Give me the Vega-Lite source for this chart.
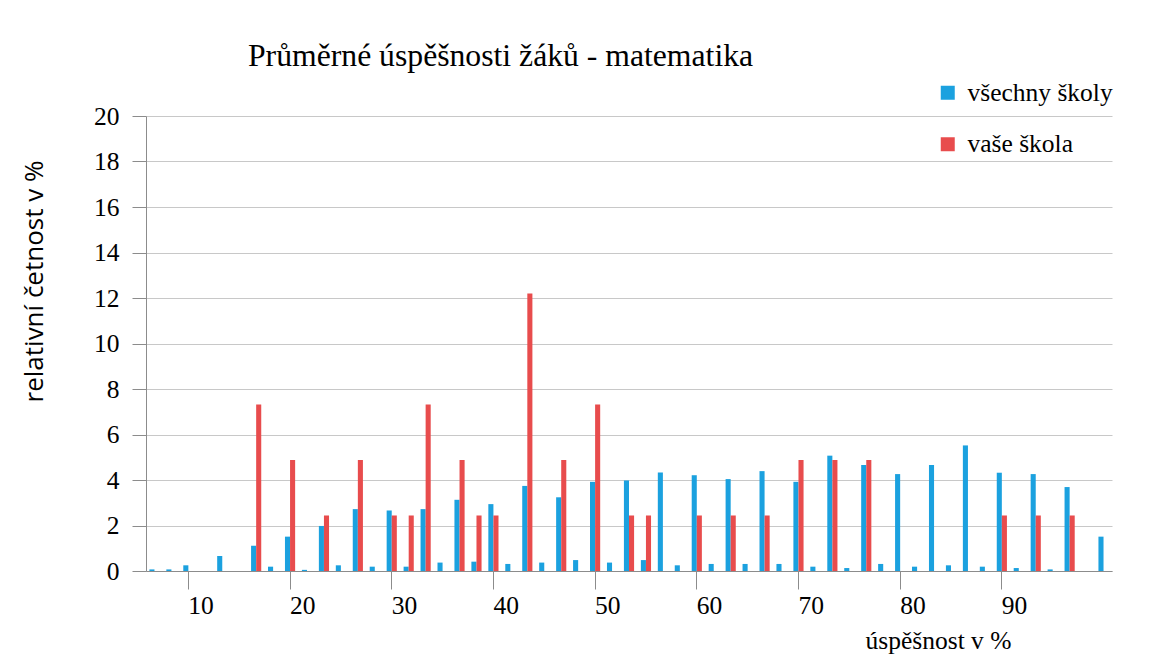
{
  "$schema": "https://vega.github.io/schema/vega-lite/v6.json",
  "width": 966,
  "height": 455,
  "autosize": {"type": "none"},
  "padding": {"left": 146, "top": 116, "right": 40, "bottom": 88},
  "background": "white",
  "title": {
    "text": "Průměrné úspěšnosti žáků - matematika",
    "anchor": "start",
    "frame": "group",
    "dx": 102,
    "dy": 30,
    "offset": 12,
    "baseline": "alphabetic",
    "font": "Liberation Serif",
    "fontSize": 31.7,
    "fontWeight": "normal",
    "color": "#000000"
  },
  "data": {
    "values": [
      {"uspesnost": 6.67, "skupina": "všechny školy", "cetnost": 0.07},
      {"uspesnost": 8.33, "skupina": "všechny školy", "cetnost": 0.07},
      {"uspesnost": 10, "skupina": "všechny školy", "cetnost": 0.25},
      {"uspesnost": 11.67, "skupina": "všechny školy", "cetnost": 0},
      {"uspesnost": 13.33, "skupina": "všechny školy", "cetnost": 0.66},
      {"uspesnost": 15, "skupina": "všechny školy", "cetnost": 0},
      {"uspesnost": 16.67, "skupina": "všechny školy", "cetnost": 1.11},
      {"uspesnost": 18.33, "skupina": "všechny školy", "cetnost": 0.19},
      {"uspesnost": 20, "skupina": "všechny školy", "cetnost": 1.51},
      {"uspesnost": 21.67, "skupina": "všechny školy", "cetnost": 0.05},
      {"uspesnost": 23.33, "skupina": "všechny školy", "cetnost": 1.98},
      {"uspesnost": 25, "skupina": "všechny školy", "cetnost": 0.25},
      {"uspesnost": 26.67, "skupina": "všechny školy", "cetnost": 2.72},
      {"uspesnost": 28.33, "skupina": "všechny školy", "cetnost": 0.19},
      {"uspesnost": 30, "skupina": "všechny školy", "cetnost": 2.66},
      {"uspesnost": 31.67, "skupina": "všechny školy", "cetnost": 0.19},
      {"uspesnost": 33.33, "skupina": "všechny školy", "cetnost": 2.72},
      {"uspesnost": 35, "skupina": "všechny školy", "cetnost": 0.37},
      {"uspesnost": 36.67, "skupina": "všechny školy", "cetnost": 3.13},
      {"uspesnost": 38.33, "skupina": "všechny školy", "cetnost": 0.41},
      {"uspesnost": 40, "skupina": "všechny školy", "cetnost": 2.94},
      {"uspesnost": 41.67, "skupina": "všechny školy", "cetnost": 0.31},
      {"uspesnost": 43.33, "skupina": "všechny školy", "cetnost": 3.74},
      {"uspesnost": 45, "skupina": "všechny školy", "cetnost": 0.37},
      {"uspesnost": 46.67, "skupina": "všechny školy", "cetnost": 3.24},
      {"uspesnost": 48.33, "skupina": "všechny školy", "cetnost": 0.48},
      {"uspesnost": 50, "skupina": "všechny školy", "cetnost": 3.92},
      {"uspesnost": 51.67, "skupina": "všechny školy", "cetnost": 0.37},
      {"uspesnost": 53.33, "skupina": "všechny školy", "cetnost": 3.98},
      {"uspesnost": 55, "skupina": "všechny školy", "cetnost": 0.48},
      {"uspesnost": 56.67, "skupina": "všechny školy", "cetnost": 4.33},
      {"uspesnost": 58.33, "skupina": "všechny školy", "cetnost": 0.25},
      {"uspesnost": 60, "skupina": "všechny školy", "cetnost": 4.21},
      {"uspesnost": 61.67, "skupina": "všechny školy", "cetnost": 0.31},
      {"uspesnost": 63.33, "skupina": "všechny školy", "cetnost": 4.04},
      {"uspesnost": 65, "skupina": "všechny školy", "cetnost": 0.31},
      {"uspesnost": 66.67, "skupina": "všechny školy", "cetnost": 4.39},
      {"uspesnost": 68.33, "skupina": "všechny školy", "cetnost": 0.31},
      {"uspesnost": 70, "skupina": "všechny školy", "cetnost": 3.92},
      {"uspesnost": 71.67, "skupina": "všechny školy", "cetnost": 0.19},
      {"uspesnost": 73.33, "skupina": "všechny školy", "cetnost": 5.07},
      {"uspesnost": 75, "skupina": "všechny školy", "cetnost": 0.13},
      {"uspesnost": 76.67, "skupina": "všechny školy", "cetnost": 4.66},
      {"uspesnost": 78.33, "skupina": "všechny školy", "cetnost": 0.31},
      {"uspesnost": 80, "skupina": "všechny školy", "cetnost": 4.26},
      {"uspesnost": 81.67, "skupina": "všechny školy", "cetnost": 0.19},
      {"uspesnost": 83.33, "skupina": "všechny školy", "cetnost": 4.66},
      {"uspesnost": 85, "skupina": "všechny školy", "cetnost": 0.25},
      {"uspesnost": 86.67, "skupina": "všechny školy", "cetnost": 5.52},
      {"uspesnost": 88.33, "skupina": "všechny školy", "cetnost": 0.19},
      {"uspesnost": 90, "skupina": "všechny školy", "cetnost": 4.32},
      {"uspesnost": 91.67, "skupina": "všechny školy", "cetnost": 0.13},
      {"uspesnost": 93.33, "skupina": "všechny školy", "cetnost": 4.26},
      {"uspesnost": 95, "skupina": "všechny školy", "cetnost": 0.07},
      {"uspesnost": 96.67, "skupina": "všechny školy", "cetnost": 3.69},
      {"uspesnost": 98.33, "skupina": "všechny školy", "cetnost": 0},
      {"uspesnost": 100, "skupina": "všechny školy", "cetnost": 1.51},
      {"uspesnost": 16.67, "skupina": "vaše škola", "cetnost": 7.32},
      {"uspesnost": 20, "skupina": "vaše škola", "cetnost": 4.88},
      {"uspesnost": 23.33, "skupina": "vaše škola", "cetnost": 2.44},
      {"uspesnost": 26.67, "skupina": "vaše škola", "cetnost": 4.88},
      {"uspesnost": 30, "skupina": "vaše škola", "cetnost": 2.44},
      {"uspesnost": 31.67, "skupina": "vaše škola", "cetnost": 2.44},
      {"uspesnost": 33.33, "skupina": "vaše škola", "cetnost": 7.32},
      {"uspesnost": 36.67, "skupina": "vaše škola", "cetnost": 4.88},
      {"uspesnost": 38.33, "skupina": "vaše škola", "cetnost": 2.44},
      {"uspesnost": 40, "skupina": "vaše škola", "cetnost": 2.44},
      {"uspesnost": 43.33, "skupina": "vaše škola", "cetnost": 12.2},
      {"uspesnost": 46.67, "skupina": "vaše škola", "cetnost": 4.88},
      {"uspesnost": 50, "skupina": "vaše škola", "cetnost": 7.32},
      {"uspesnost": 53.33, "skupina": "vaše škola", "cetnost": 2.44},
      {"uspesnost": 55, "skupina": "vaše škola", "cetnost": 2.44},
      {"uspesnost": 60, "skupina": "vaše škola", "cetnost": 2.44},
      {"uspesnost": 63.33, "skupina": "vaše škola", "cetnost": 2.44},
      {"uspesnost": 66.67, "skupina": "vaše škola", "cetnost": 2.44},
      {"uspesnost": 70, "skupina": "vaše škola", "cetnost": 4.88},
      {"uspesnost": 73.33, "skupina": "vaše škola", "cetnost": 4.88},
      {"uspesnost": 76.67, "skupina": "vaše škola", "cetnost": 4.88},
      {"uspesnost": 90, "skupina": "vaše škola", "cetnost": 2.44},
      {"uspesnost": 93.33, "skupina": "vaše škola", "cetnost": 2.44},
      {"uspesnost": 96.67, "skupina": "vaše škola", "cetnost": 2.44}
    ]
  },
  "mark": {"type": "bar"},
  "encoding": {
    "x": {
      "field": "uspesnost",
      "type": "ordinal",
      "scale": {"paddingInner": 0.4, "paddingOuter": 0.2},
      "axis": {
        "values": [10, 20, 30, 40, 50, 60, 70, 80, 90],
        "labelAngle": 0,
        "labelAlign": "left",
        "labelBaseline": "top",
        "labelPadding": 4,
        "labelFont": "Liberation Serif",
        "labelFontSize": 25.5,
        "labelColor": "#000000",
        "tickSize": 18,
        "tickColor": "#8C8C8C",
        "domainColor": "#8C8C8C",
        "grid": false,
        "title": "úspěšnost v %",
        "titleFont": "Liberation Serif",
        "titleFontSize": 25.5,
        "titleFontWeight": "normal",
        "titleColor": "#000000",
        "titleX": 792,
        "titleY": 77,
        "titleAlign": "center",
        "titleBaseline": "alphabetic"
      }
    },
    "xOffset": {"field": "skupina", "type": "nominal", "sort": ["všechny školy", "vaše škola"]},
    "y": {
      "field": "cetnost",
      "type": "quantitative",
      "scale": {"domain": [0, 20], "nice": false},
      "axis": {
        "values": [0, 2, 4, 6, 8, 10, 12, 14, 16, 18, 20],
        "labelFont": "Liberation Serif",
        "labelFontSize": 25.5,
        "labelColor": "#000000",
        "labelPadding": 13,
        "tickSize": 14,
        "tickColor": "#8C8C8C",
        "domainColor": "#8C8C8C",
        "grid": true,
        "gridColor": "#C8C8C8",
        "title": "relativní četnost v %",
        "titleFont": "Open Sans",
        "titleFontSize": 26,
        "titleFontWeight": "normal",
        "titleColor": "#000000",
        "titleAngle": 270,
        "titleX": -104,
        "titleY": 165,
        "titleAlign": "center",
        "titleBaseline": "alphabetic"
      }
    },
    "color": {
      "field": "skupina",
      "type": "nominal",
      "scale": {"domain": ["všechny školy", "vaše škola"], "range": ["#1BA1DF", "#E84C4D"]},
      "legend": {
        "orient": "none",
        "legendX": 789,
        "legendY": -36,
        "title": null,
        "symbolType": "square",
        "symbolSize": 196,
        "symbolStrokeWidth": 0,
        "symbolOpacity": 1,
        "labelFont": "Liberation Serif",
        "labelFontSize": 25.5,
        "labelColor": "#000000",
        "labelLimit": 300,
        "labelOffset": 7,
        "rowPadding": 24.5
      }
    }
  },
  "config": {"view": {"stroke": null}}
}
